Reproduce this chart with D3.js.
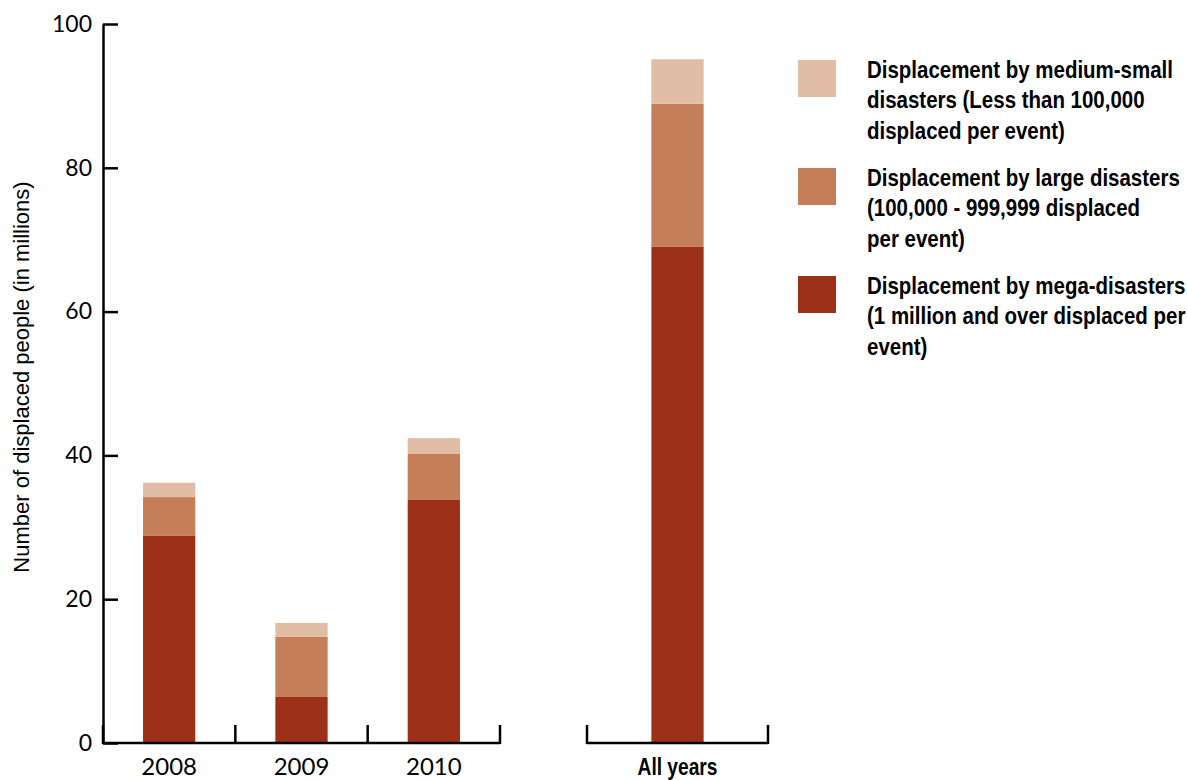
<!DOCTYPE html>
<html lang="en">
<head>
  <meta charset="UTF-8">
  <title>Displacement by disaster size</title>
  <script src="https://d3js.org/d3.v7.min.js"></script>
  <style>
    body { margin: 0; background: #fff; }
  </style>
</head>
<body>
  <div id="chart-container"></div>

  <script>
    // Data (millions of displaced people)
    const years = ['2008', '2009', '2010'];
    const totalLabel = 'All years';
    const megaValues = [28.8, 6.4, 33.8, 69.0];
    const largeValues = [5.4, 8.4, 6.4, 19.9];
    const smallValues = [2.0, 1.9, 2.2, 6.2];
    const yTicks = [0, 20, 40, 60, 80, 100];
    const seriesNames = ['small', 'large', 'mega'];
    const legendLabels = [
      ['Displacement by medium-small', 'disasters (Less than 100,000', 'displaced per event)'],
      ['Displacement by large disasters', '(100,000 - 999,999 displaced', 'per event)'],
      ['Displacement by mega-disasters', '(1 million and over displaced per', 'event)']
    ];

    const colors = { small: '#E2BDA6', large: '#C47E58', mega: '#9C3018' };

    const width = 1187;
    const height = 780;
    const condFont = '"Liberation Sans", Arial, sans-serif';

    // one row per bar, built from the arrays above
    const categories = years.concat([totalLabel]);
    const rows = categories.map((c, i) => ({
      category: c, mega: megaValues[i], large: largeValues[i], small: smallValues[i]
    }));
    const stacked = d3.stack().keys(['mega', 'large', 'small'])(rows);

    const svg = d3.select('#chart-container')
      .append('svg')
      .attr('width', width)
      .attr('height', height);

    // Scales
    const yScale = d3.scaleLinear().domain([0, 100]).range([743, 24]);
    const xYears = d3.scaleBand().domain(years).range([103, 500]).padding(0);
    const xTotal = d3.scaleBand().domain([totalLabel]).range([587, 768]).padding(0);
    const barWidth = xYears.bandwidth() * 0.395;
    const xCenter = c => c === totalLabel
      ? xTotal(c) + xTotal.bandwidth() / 2
      : xYears(c) + xYears.bandwidth() / 2;

    // Bars
    stacked.forEach(layer => {
      svg.append('g')
        .selectAll('rect')
        .data(layer)
        .join('rect')
        .attr('x', d => xCenter(d.data.category) - barWidth / 2)
        .attr('y', d => yScale(d[1]))
        .attr('width', barWidth)
        .attr('height', d => yScale(d[0]) - yScale(d[1]))
        .attr('fill', colors[layer.key]);
    });

    // Y axis: ticks pointing inward, labels on the left
    const yAxis = svg.append('g')
      .attr('transform', 'translate(103,0)')
      .call(d3.axisLeft(yScale).tickValues(yTicks).tickSizeInner(-15).tickSizeOuter(0).tickPadding(11));
    yAxis.select('.domain').attr('stroke', '#000').attr('stroke-width', 2.5);
    yAxis.selectAll('.tick line').attr('stroke', '#000').attr('stroke-width', 2.5);
    yAxis.selectAll('.tick text')
      .attr('fill', '#000')
      .style('font-family', 'Lato, sans-serif')
      .style('font-size', '23px');

    // X axis: two bracket-like baselines with upward ticks at band edges
    function drawBase(scale) {
      const edges = scale.domain().map(d => scale(d)).concat([scale.range()[1]]);
      const g = svg.append('g').attr('stroke', '#000').attr('stroke-width', 2.5);
      g.append('line')
        .attr('x1', scale.range()[0]).attr('x2', scale.range()[1])
        .attr('y1', yScale(0)).attr('y2', yScale(0));
      g.selectAll('line.edge')
        .data(edges)
        .join('line')
        .attr('class', 'edge')
        .attr('x1', d => d).attr('x2', d => d)
        .attr('y1', yScale(0) - 18).attr('y2', yScale(0) + 1);
    }
    drawBase(xYears);
    drawBase(xTotal);

    svg.append('g')
      .selectAll('text')
      .data(years)
      .join('text')
      .attr('x', d => xCenter(d))
      .attr('y', 775)
      .attr('text-anchor', 'middle')
      .style('font-family', 'Lato, sans-serif')
      .style('font-size', '24px')
      .text(d => d);

    // squeeze a text group horizontally so its widest line spans targetWidth
    function condense(g, targetWidth) {
      let widest = 0;
      g.selectAll('text').each(function () { widest = Math.max(widest, this.getComputedTextLength()); });
      return Math.min(1, targetWidth / widest);
    }

    const allG = svg.append('g');
    allG.append('text')
      .attr('text-anchor', 'middle')
      .style('font-family', condFont)
      .style('font-weight', 'bold')
      .style('font-size', '23px')
      .text(totalLabel);
    const allScale = condense(allG, 80);
    allG.attr('transform', `translate(${xCenter(totalLabel)},775) scale(${allScale},1)`);

    // Y axis title
    svg.append('text')
      .attr('transform', 'translate(29,377) rotate(-90)')
      .attr('text-anchor', 'middle')
      .style('font-family', '"Liberation Sans", Arial, sans-serif')
      .style('font-size', '22px')
      .text('Number of displaced people (in millions)');

    // Legend
    const legend = svg.append('g')
      .selectAll('g')
      .data(seriesNames)
      .join('g')
      .attr('transform', (d, i) => `translate(798,${60 + i * 108})`);

    legend.append('rect')
      .attr('width', 38)
      .attr('height', 37)
      .attr('fill', d => colors[d]);

    const legendTexts = legend.append('g');
    legendTexts.each(function (d, i) {
      d3.select(this)
        .selectAll('text')
        .data(legendLabels[i])
        .join('text')
        .attr('y', (t, j) => 18 + j * 30.5)
        .style('font-family', condFont)
        .style('font-weight', 'bold')
        .style('font-size', '23px')
        .text(t => t);
    });
    // the first legend line spans about 306px in the reference
    const firstWidth = legendTexts.select('text').node().getComputedTextLength();
    const legScale = 306 / firstWidth;
    legendTexts.attr('transform', `translate(69,0) scale(${legScale},1)`);
  </script>
</body>
</html>
